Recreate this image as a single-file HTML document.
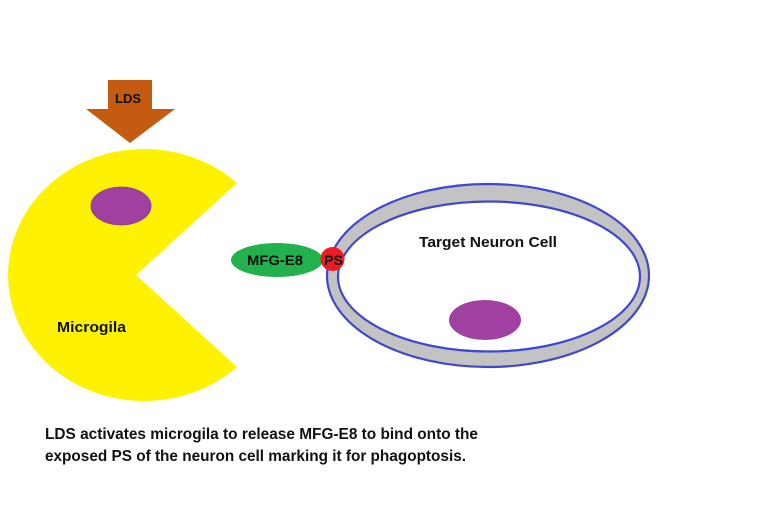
<!DOCTYPE html>
<html><head><meta charset="utf-8"><style>
html,body{margin:0;padding:0;background:#fff;}
svg{display:block;}
text{font-family:"Liberation Sans",sans-serif;font-weight:bold;fill:#111;}
</style></head><body>
<svg width="768" height="512" viewBox="0 0 768 512" xmlns="http://www.w3.org/2000/svg">
<rect width="768" height="512" fill="#fff"/>
<!-- LDS arrow -->
<polygon points="108,80 152,80 152,109 175,109 130,143 86,109 108,109" fill="#c55a11"/>
<text x="128" y="103" font-size="13" text-anchor="middle" textLength="26" lengthAdjust="spacingAndGlyphs">LDS</text>
<!-- Microglia pacman -->
<path d="M136 275 L237 183 A136 126 0 1 0 237 367 Z" fill="#fff200"/>
<ellipse cx="121" cy="206" rx="30" ry="19" fill="#a040a0" stroke="#8a3590" stroke-width="0.8"/>
<text x="57" y="332" font-size="15" textLength="69" lengthAdjust="spacingAndGlyphs">Microgila</text>
<!-- Neuron -->
<ellipse cx="488" cy="275.5" rx="161" ry="91.5" fill="#c3c3c3" stroke="#3f48cc" stroke-width="2.2"/>
<ellipse cx="489" cy="276.5" rx="151" ry="75" fill="#fff" stroke="#3f48cc" stroke-width="2.2"/>
<ellipse cx="485" cy="320" rx="36" ry="20" fill="#a040a0"/>
<text x="419" y="247" font-size="15" textLength="138" lengthAdjust="spacingAndGlyphs">Target Neuron Cell</text>
<!-- MFG-E8 -->
<ellipse cx="277" cy="260" rx="46" ry="17" fill="#22b14c"/>
<text x="247" y="265" font-size="14" textLength="56" lengthAdjust="spacingAndGlyphs">MFG-E8</text>
<!-- PS -->
<circle cx="332.5" cy="259" r="12" fill="#ed1c24"/>
<text x="324" y="265" font-size="14" textLength="19" lengthAdjust="spacingAndGlyphs">PS</text>
<!-- caption -->
<text x="45" y="439" font-size="15.5" textLength="433" lengthAdjust="spacingAndGlyphs">LDS activates microgila to release MFG-E8 to bind onto the</text>
<text x="45" y="461" font-size="15.5" textLength="421" lengthAdjust="spacingAndGlyphs">exposed PS of the neuron cell marking it for phagoptosis.</text>
</svg>
</body></html>
